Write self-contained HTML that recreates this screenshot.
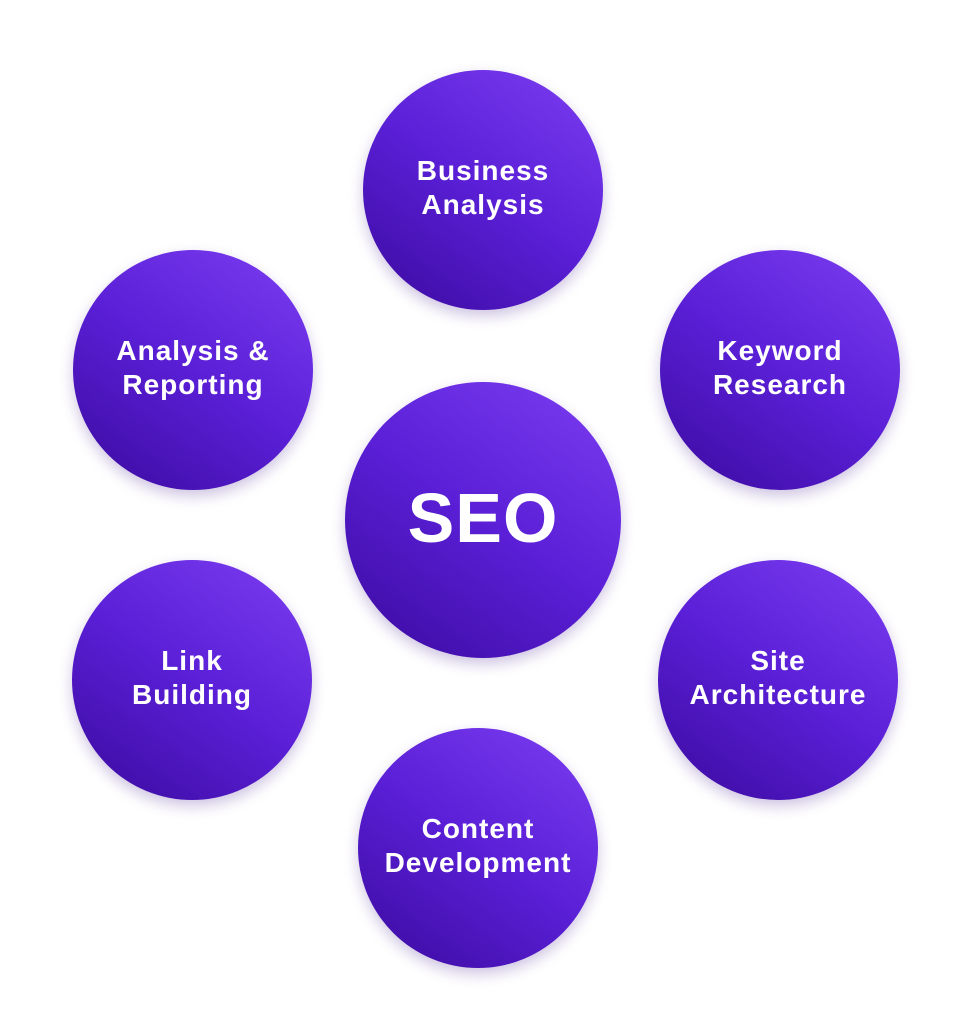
<!DOCTYPE html>
<html><head><meta charset="utf-8"><style>
body{margin:0;width:962px;height:1024px;background:#fff;position:relative;overflow:hidden;font-family:"Liberation Sans",sans-serif}
.c{position:absolute;border-radius:50%;background:linear-gradient(215deg,#7c3ef2 0%,#5a1fd6 50%,#3a0a9e 100%);box-shadow:0 6px 14px rgba(60,20,140,0.25);display:flex;align-items:center;justify-content:center;text-align:center;color:#fff;font-weight:bold;font-size:28px;line-height:34px;letter-spacing:1px}
.c span{position:relative;top:-2px}
</style></head><body>
<div class="c" style="left:363px;top:70px;width:240px;height:240px"><span>Business<br>Analysis</span></div>
<div class="c" style="left:660px;top:250px;width:240px;height:240px"><span>Keyword<br>Research</span></div>
<div class="c" style="left:73px;top:250px;width:240px;height:240px"><span>Analysis &amp;<br>Reporting</span></div>
<div class="c" style="left:345px;top:382px;width:276px;height:276px;font-size:70px;line-height:70px;letter-spacing:1px"><span>SEO</span></div>
<div class="c" style="left:72px;top:560px;width:240px;height:240px"><span>Link<br>Building</span></div>
<div class="c" style="left:658px;top:560px;width:240px;height:240px"><span>Site<br>Architecture</span></div>
<div class="c" style="left:358px;top:728px;width:240px;height:240px"><span>Content<br>Development</span></div>
</body></html>
